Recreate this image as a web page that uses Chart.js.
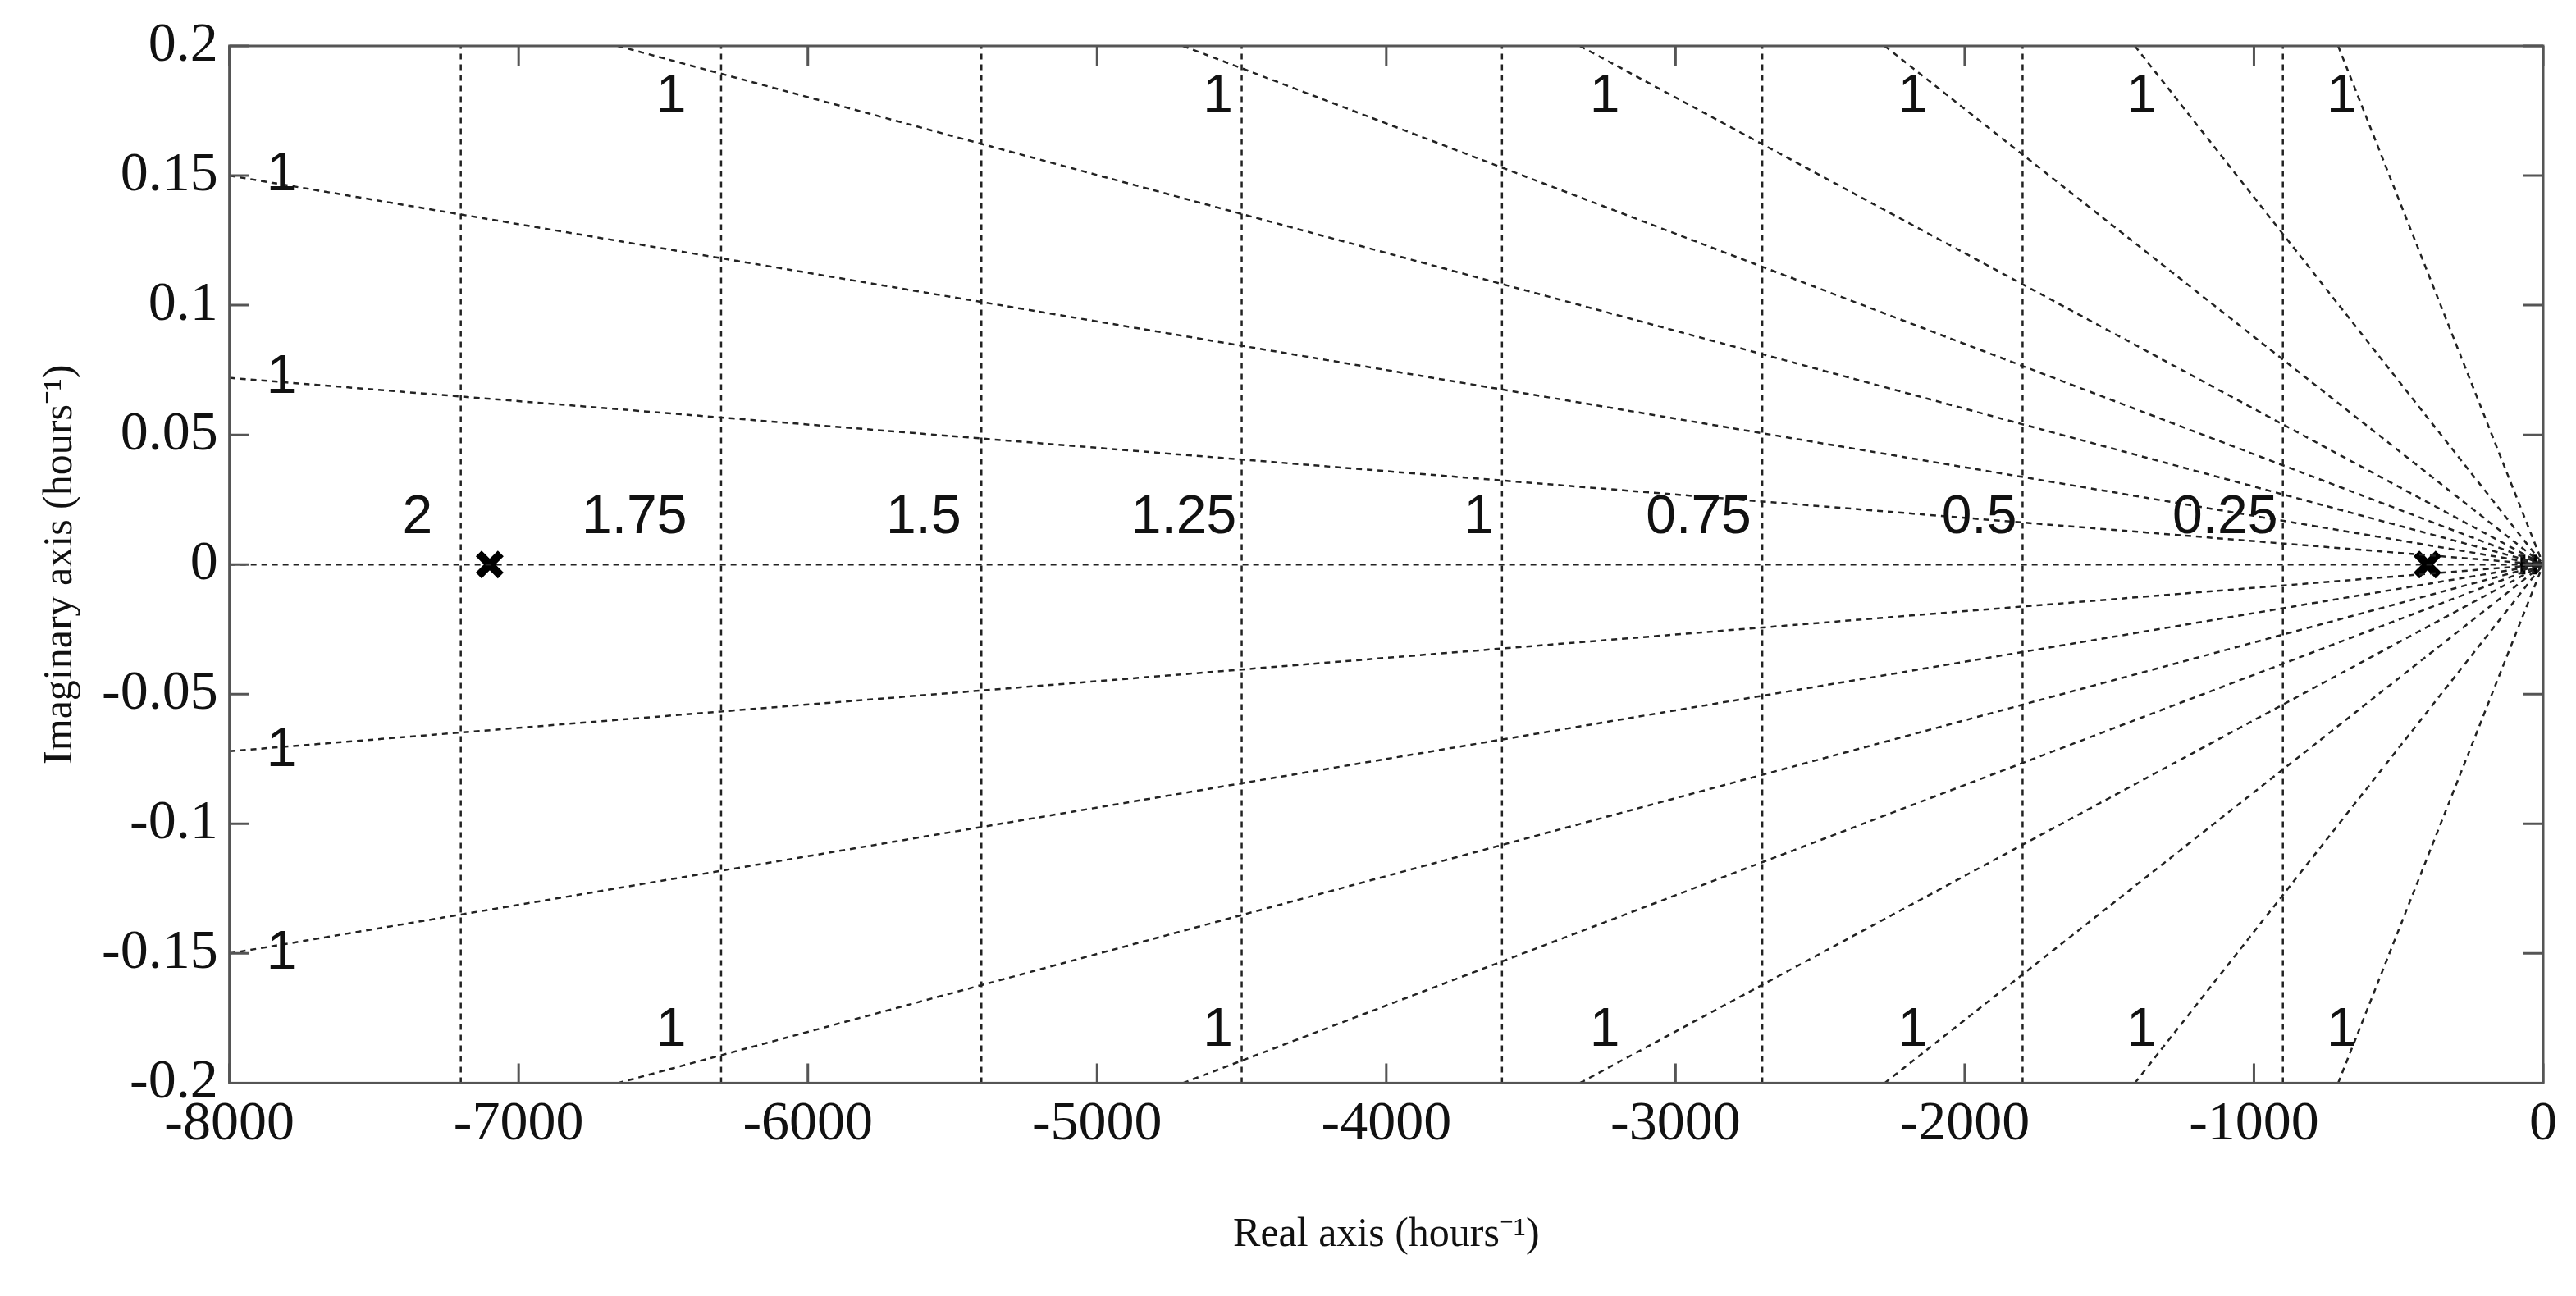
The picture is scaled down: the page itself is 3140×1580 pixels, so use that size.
<!DOCTYPE html>
<html><head><meta charset="utf-8">
<script src="https://cdn.jsdelivr.net/npm/chart.js@4/dist/chart.umd.min.js"></script>
<style>html,body{margin:0;background:#fff}#w{width:3140px;height:1580px}</style>
</head><body><div id="w"><canvas id="c"></canvas></div>
<script>
const xTicks = [-8000,-7000,-6000,-5000,-4000,-3000,-2000,-1000,0];
const yTicks = [0.2,0.15,0.1,0.05,0,-0.05,-0.1,-0.15,-0.2];
const wnLinesX = [-7200,-6300,-5400,-4500,-3600,-2700,-1800,-900];
const rayLeftY = [0.15,0.072];
const rayTopX = [-6657,-4703,-3331,-2277,-1412,-709];
const wnLabels = ['2','1.75','1.5','1.25','1','0.75','0.5','0.25'];
const wnLabelX = [-7350,-6600,-5600,-4700,-3680,-2920,-1950,-1100];
const wnLabelY = 0.012;
const zetaTopX = [-6473,-4582,-3245,-2179,-1389,-697];
const zetaTopY = 0.18;
const zetaLeftX = -7820;
const poles = [[-7100,0],[-400,0]];
const zeros = [-70,-30];

const ds = [];
const dashed = {borderColor:'#222',borderWidth:2.5,borderDash:[7,6],pointRadius:0,showLine:true,fill:false};
ds.push({...dashed,data:[{x:-8000,y:0},{x:0,y:0}]});
wnLinesX.forEach(x=>ds.push({...dashed,data:[{x,y:-0.2},{x,y:0.2}]}));
rayLeftY.forEach(y=>{ds.push({...dashed,data:[{x:-8000,y},{x:0,y:0}]});ds.push({...dashed,data:[{x:-8000,y:-y},{x:0,y:0}]});});
rayTopX.forEach(x=>{ds.push({...dashed,data:[{x,y:0.2},{x:0,y:0}]});ds.push({...dashed,data:[{x,y:-0.2},{x:0,y:0}]});});
ds.push({data:poles.map(p=>({x:p[0],y:p[1]})),pointStyle:'crossRot',pointRadius:19,pointBorderWidth:10,borderColor:'#000',backgroundColor:'#000',showLine:false});
ds.push({data:zeros.map(x=>({x,y:0})),pointStyle:'line',rotation:90,pointRadius:12,pointBorderWidth:6,borderColor:'#000',showLine:false});
ds.push({data:[{x:-80,y:0},{x:-5,y:0}],borderColor:'#000',borderWidth:5,pointRadius:0,showLine:true});

const deco = {id:'deco',afterDatasetsDraw(ch){
  const c=ch.ctx,x=ch.scales.x,y=ch.scales.y,a=ch.chartArea;
  c.save();
  c.fillStyle='#111';c.font='66px "Liberation Sans"';c.textAlign='center';c.textBaseline='alphabetic';
  wnLabels.forEach((t,i)=>c.fillText(t,x.getPixelForValue(wnLabelX[i]),y.getPixelForValue(wnLabelY)));
  c.textBaseline='middle';
  zetaTopX.forEach(v=>{c.fillText('1',x.getPixelForValue(v),y.getPixelForValue(zetaTopY));c.fillText('1',x.getPixelForValue(v),y.getPixelForValue(-zetaTopY));});
  rayLeftY.forEach(v=>{c.fillText('1',x.getPixelForValue(zetaLeftX),y.getPixelForValue(v));c.fillText('1',x.getPixelForValue(zetaLeftX),y.getPixelForValue(-v));});
  c.strokeStyle='#555';c.lineWidth=3;
  c.strokeRect(a.left,a.top,a.right-a.left,a.bottom-a.top);
  c.beginPath();
  xTicks.forEach(v=>{const p=x.getPixelForValue(v);c.moveTo(p,a.bottom);c.lineTo(p,a.bottom-24);c.moveTo(p,a.top);c.lineTo(p,a.top+24);});
  yTicks.forEach(v=>{const p=y.getPixelForValue(v);c.moveTo(a.left,p);c.lineTo(a.left+24,p);c.moveTo(a.right,p);c.lineTo(a.right-24,p);});
  c.stroke();c.restore();
}};

new Chart(document.getElementById('c'),{type:'scatter',data:{datasets:ds},plugins:[deco],
options:{responsive:true,maintainAspectRatio:false,animation:false,
 layout:{padding:{left:40,right:40,top:56,bottom:40}},
 plugins:{legend:{display:false},tooltip:{enabled:false}},
 scales:{
  x:{type:'linear',min:-8000,max:0,afterBuildTicks:s=>{s.ticks=xTicks.map(v=>({value:v}));},
     grid:{display:false},border:{display:false},
     ticks:{color:'#111',font:{family:'Liberation Serif',size:68},padding:2,maxRotation:0,callback:v=>String(v)},
     title:{display:true,text:'Real axis (hours⁻¹)',color:'#111',font:{family:'Liberation Serif',size:50},padding:{top:62}}},
  y:{type:'linear',min:-0.2,max:0.2,afterBuildTicks:s=>{s.ticks=yTicks.map(v=>({value:v}));},
     grid:{display:false},border:{display:false},
     ticks:{color:'#111',font:{family:'Liberation Serif',size:68},padding:6,callback:v=>String(Math.round(v*100)/100)},
     title:{display:true,text:'Imaginary axis (hours⁻¹)',color:'#111',font:{family:'Liberation Serif',size:50},padding:{bottom:14}}}
 }}});
</script></body></html>
